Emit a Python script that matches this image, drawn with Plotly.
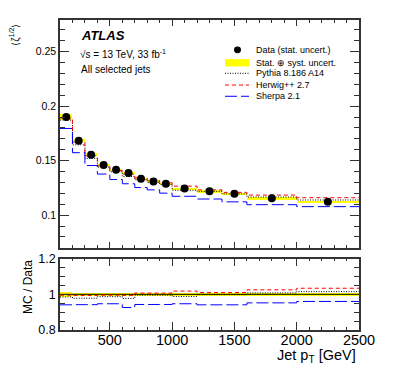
import plotly.graph_objects as go

# ---------------- data ----------------
bin_edges = [100, 200, 300, 400, 500, 600, 700, 800, 900, 1000, 1200, 1400, 1600, 2000, 2500]
data_vals = [0.190, 0.1682, 0.1555, 0.1460, 0.1416, 0.1386, 0.1333, 0.1309, 0.1288, 0.1244,
             0.1220, 0.1197, 0.1155, 0.1122]
data_stat = [0.0004, 0.0003, 0.0003, 0.0003, 0.0003, 0.0003, 0.0003, 0.0003, 0.0003, 0.0003,
             0.0003, 0.0003, 0.0003, 0.0004]
data_tot = [0.0025, 0.0015, 0.0012, 0.0010, 0.0010, 0.0010, 0.0009, 0.0009, 0.0009, 0.0009,
            0.0009, 0.0009, 0.0009, 0.0010]

pythia_vals = [0.1872, 0.1645, 0.1521, 0.1441, 0.1398, 0.1354, 0.1326, 0.1302, 0.1282, 0.1229,
               0.1218, 0.1195, 0.1166, 0.1139]
herwig_vals = [0.1891, 0.1670, 0.1544, 0.1453, 0.1409, 0.1376, 0.1342, 0.1318, 0.1297, 0.1266,
               0.1232, 0.1209, 0.1184, 0.1160]
sherpa_vals = [0.1795, 0.1573, 0.1455, 0.1377, 0.1327, 0.1288, 0.1253, 0.1232, 0.1202, 0.1173,
               0.1148, 0.1122, 0.1096, 0.1078]

pythia_ratio = [0.985, 0.978, 0.978, 0.987, 0.987, 0.977, 0.995, 0.995, 0.995, 0.988,
                0.998, 0.998, 1.008, 1.015]
herwig_ratio = [0.995, 0.993, 0.993, 0.995, 0.995, 0.993, 1.007, 1.007, 1.007, 1.018,
                1.010, 1.010, 1.025, 1.034]
sherpa_ratio = [0.941, 0.942, 0.942, 0.947, 0.947, 0.926, 0.943, 0.943, 0.943, 0.947,
                0.941, 0.941, 0.952, 0.960]

x_ticks = [500, 1000, 1500, 2000, 2500]
main_y_ticks = [0.1, 0.15, 0.2, 0.25]
ratio_y_ticks = [0.8, 1.0, 1.2]
ratio_y_labels = ["0.8", "1", "1.2"]

# ---------------- derived helpers ----------------
centers = [(a + b) / 2 for a, b in zip(bin_edges[:-1], bin_edges[1:])]
widths = [b - a for a, b in zip(bin_edges[:-1], bin_edges[1:])]
band_ratio = [u / d for u, d in zip(data_tot, data_vals)]

FONT = "Liberation Sans, Arial, Helvetica, sans-serif"
# the page body has an 8px margin, so the figure is made 8px smaller and
# margins reduced so the plot frame lands where it is in the reference
W, H = 391, 371
ML, MR, MT, MB = 52, 40, 5, 49
PL, PR, PT, PB = 60, 359, 13, 330  # plot frame in window pixels

DOT = "1px,1.5px"
DASH = "4px,3px"
LDASH = "12px,4px"


def px(x):
    return (x - PL) / (PR - PL)


def py(y):
    return (PB - y) / (PB - PT)


def step(vals):
    return list(vals) + [vals[-1]]


fig = go.Figure()

# ---- main panel ----
fig.add_trace(go.Bar(x=centers, width=widths, base=[d - u for d, u in zip(data_vals, data_tot)],
                     y=[2 * u for u in data_tot], marker=dict(color="#ffff00", line=dict(width=0)),
                     xaxis="x", yaxis="y", showlegend=False, hoverinfo="skip"))
fig.add_trace(go.Scatter(x=bin_edges, y=step(pythia_vals), mode="lines", line_shape="hv",
                         line=dict(color="black", width=1, dash=DOT), xaxis="x", yaxis="y",
                         showlegend=False))
fig.add_trace(go.Scatter(x=bin_edges, y=step(herwig_vals), mode="lines", line_shape="hv",
                         line=dict(color="#ff0000", width=1, dash=DASH), xaxis="x", yaxis="y",
                         showlegend=False))
fig.add_trace(go.Scatter(x=bin_edges, y=step(sherpa_vals), mode="lines", line_shape="hv",
                         line=dict(color="#0000ff", width=1, dash=LDASH), xaxis="x", yaxis="y",
                         showlegend=False))
fig.add_trace(go.Scatter(x=centers, y=data_vals, mode="markers",
                         marker=dict(color="black", size=8, symbol="circle"),
                         error_y=dict(type="data", array=data_stat, color="black", thickness=1, width=0),
                         xaxis="x", yaxis="y", showlegend=False))

# ---- ratio panel ----
fig.add_trace(go.Bar(x=centers, width=widths, base=[1 - r for r in band_ratio],
                     y=[2 * r for r in band_ratio], marker=dict(color="#ffff00", line=dict(width=0)),
                     xaxis="x2", yaxis="y2", showlegend=False, hoverinfo="skip"))
fig.add_trace(go.Scatter(x=[bin_edges[0], bin_edges[-1]], y=[1, 1], mode="lines",
                         line=dict(color="black", width=1), xaxis="x2", yaxis="y2", showlegend=False))
fig.add_trace(go.Scatter(x=bin_edges, y=step(pythia_ratio), mode="lines", line_shape="hv",
                         line=dict(color="black", width=1, dash=DOT), xaxis="x2", yaxis="y2",
                         showlegend=False))
fig.add_trace(go.Scatter(x=bin_edges, y=step(herwig_ratio), mode="lines", line_shape="hv",
                         line=dict(color="#ff0000", width=1, dash=DASH), xaxis="x2", yaxis="y2",
                         showlegend=False))
fig.add_trace(go.Scatter(x=bin_edges, y=step(sherpa_ratio), mode="lines", line_shape="hv",
                         line=dict(color="#0000ff", width=1, dash=LDASH), xaxis="x2", yaxis="y2",
                         showlegend=False))

AX = "#333333"
main_bottom = py(246)
ratio_top = py(257)

common_x = dict(range=[bin_edges[0], bin_edges[-1]], showgrid=False, zeroline=False,
                showline=True, linecolor=AX, linewidth=1.5, mirror="allticks",
                ticks="inside", tickcolor=AX, tickwidth=1, tickmode="array", tickvals=x_ticks,
                minor=dict(dtick=100, tick0=0, ticks="inside", ticklen=3, tickcolor=AX, tickwidth=1))

fig.update_layout(
    width=W, height=H,
    margin=dict(l=ML, r=MR, t=MT, b=MB),
    paper_bgcolor="white", plot_bgcolor="white",
    barmode="overlay", bargap=0,
    font=dict(family=FONT, color="black"),
    xaxis=dict(common_x, domain=[0, 1], anchor="y", showticklabels=False, ticklen=6),
    yaxis=dict(domain=[main_bottom, 1], anchor="x", range=[0.07, 0.279], showgrid=False,
               zeroline=False, showline=True, linecolor=AX, linewidth=1.5, mirror="allticks",
               ticks="inside", ticklen=9, tickcolor=AX, tickwidth=1,
               tickmode="array", tickvals=main_y_ticks, tickfont=dict(size=10.5),
               minor=dict(dtick=0.01, tick0=0, ticks="inside", ticklen=5, tickcolor=AX, tickwidth=1)),
    xaxis2=dict(common_x, domain=[0, 1], anchor="y2", matches="x", showticklabels=True, ticklen=8,
                tickfont=dict(size=14.5), tickformat="d", ticklabelstandoff=-4),
    yaxis2=dict(domain=[0, ratio_top], anchor="x2", range=[0.8, 1.2], showgrid=False,
                zeroline=False, showline=True, linecolor=AX, linewidth=1.5, mirror="allticks",
                ticks="inside", ticklen=9, tickcolor=AX, tickwidth=1,
                tickmode="array", tickvals=ratio_y_ticks, ticktext=ratio_y_labels,
                tickfont=dict(size=12.5),
                minor=dict(dtick=0.05, tick0=0, ticks="inside", ticklen=5, tickcolor=AX, tickwidth=1)),
)

ann = []
ann.append(dict(text="<b><i>ATLAS</i></b>", x=px(79), y=py(29), xanchor="left", yanchor="middle",
                font=dict(size=13)))
ann.append(dict(text="√s = 13 TeV, 33 fb<sup>-1</sup>", x=px(78), y=py(48), xanchor="left",
                yanchor="middle", font=dict(size=10)))
ann.append(dict(text="All selected jets", x=px(79), y=py(64), xanchor="left", yanchor="middle",
                font=dict(size=10)))
ann.append(dict(text="⟨ζ<sup>1/2</sup>⟩", x=px(15), y=py(28), xanchor="center", yanchor="middle",
                textangle=-90, font=dict(size=10)))
ann.append(dict(text="MC / Data", x=px(28), y=py(286), xanchor="center", yanchor="middle",
                textangle=-90, font=dict(size=12)))
ann.append(dict(text="Jet p<sub>T</sub> [GeV]", x=px(358), y=py(357), xanchor="right",
                yanchor="middle", font=dict(size=14.5)))

legend_rows = [("Data (stat. uncert.)", 43.5), ("Stat. ⊕ syst. uncert.", 56.5),
               ("Pythia 8.186 A14", 67.5), ("Herwig++ 2.7", 79.5), ("Sherpa 2.1", 91)]
for label, yy in legend_rows:
    ann.append(dict(text=label, x=px(254), y=py(yy), xanchor="left", yanchor="middle",
                    font=dict(size=9)))

for a in ann:
    a.update(xref="paper", yref="paper", showarrow=False)
fig.update_layout(annotations=ann)

shapes = []
# legend symbols
shapes.append(dict(type="circle", x0=px(234), x1=px(241), y0=py(40), y1=py(47),
                   fillcolor="black", line=dict(width=0)))
shapes.append(dict(type="rect", x0=px(225), x1=px(249), y0=py(53), y1=py(60.5),
                   fillcolor="#ffff00", line=dict(width=0)))
shapes.append(dict(type="line", x0=px(225), x1=px(249), y0=py(67.5), y1=py(67.5),
                   line=dict(color="black", width=1, dash=DOT)))
shapes.append(dict(type="line", x0=px(225), x1=px(249), y0=py(79.5), y1=py(79.5),
                   line=dict(color="#ff0000", width=1, dash=DASH)))
shapes.append(dict(type="line", x0=px(225), x1=px(249), y0=py(91), y1=py(91),
                   line=dict(color="#0000ff", width=1, dash=LDASH)))
for s in shapes:
    s.update(xref="paper", yref="paper")
fig.update_layout(shapes=shapes)

fig.write_html("out.html")
